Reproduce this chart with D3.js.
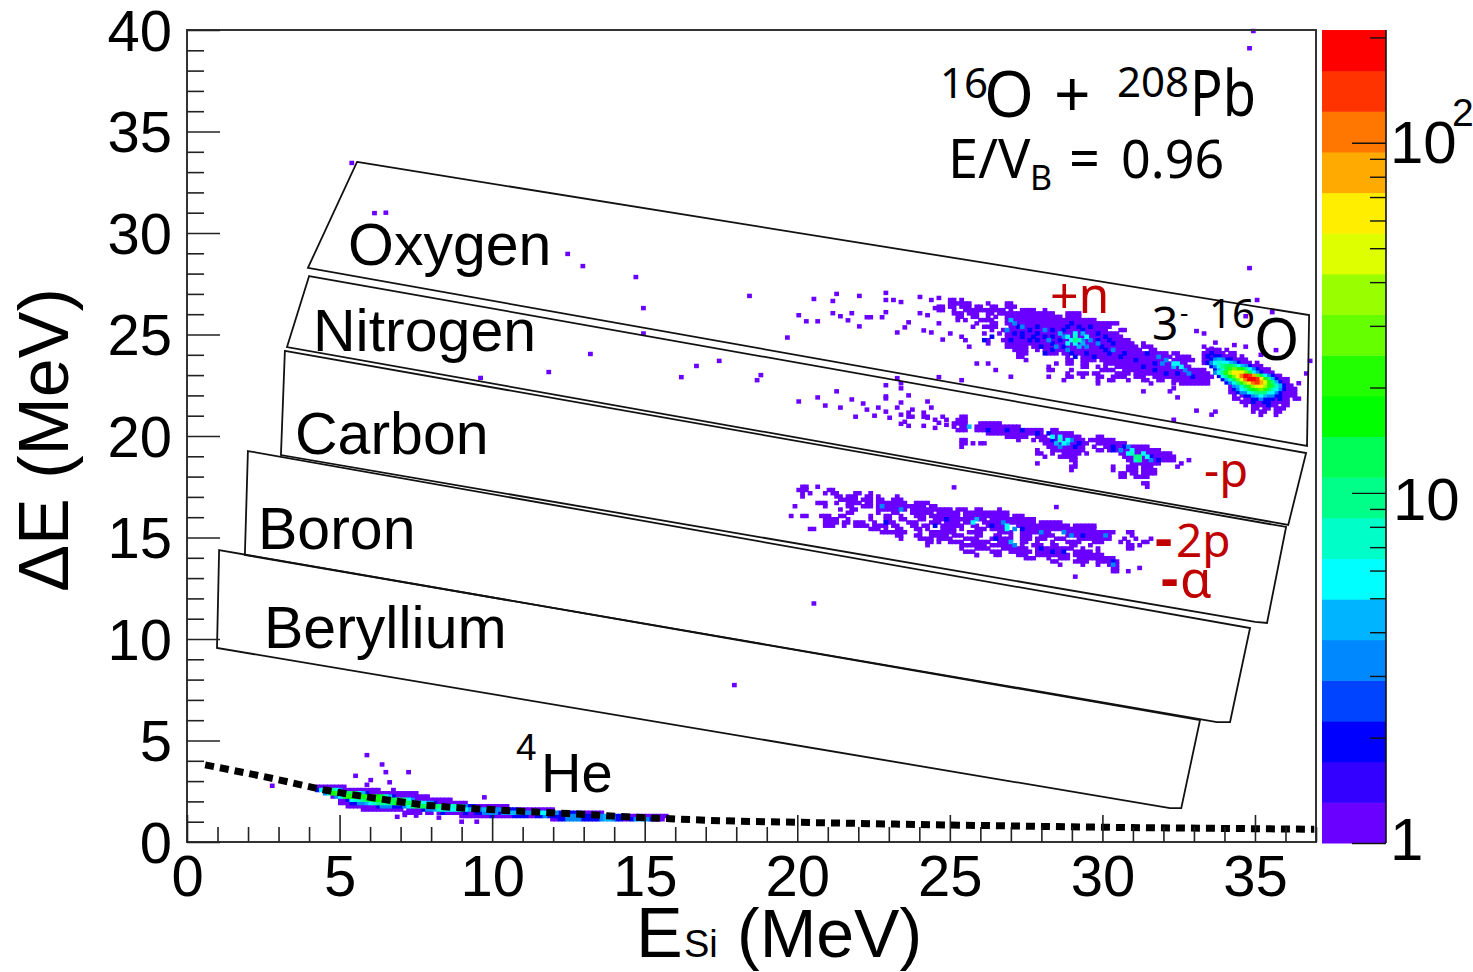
<!DOCTYPE html>
<html>
<head>
<meta charset="utf-8">
<title>16O + 208Pb dE-E</title>
<script src="https://cdn.jsdelivr.net/npm/d3@7"></script>
<style>
	html, body { margin: 0; padding: 0; background: #fff; overflow: hidden; }
	text { font-family: "Liberation Sans", Arial, sans-serif; fill: #000; }
	.note { font-family: "Noto Sans", "Open Sans", sans-serif; }
	.red { font-family: "Noto Sans", "Open Sans", sans-serif; fill: #c00000; }
</style>
</head>
<body>
<script>

// bin size of the E-dE histogram, MeV
var binE = 0.125,
	binD = 0.16;

// axis ticks
var xTicks = d3.range(0, 38),
	yTicks = d3.range(0, 41),
	zTicks = [1,2,3,4,5,6,7,8,9,10,20,30,40,50,60,70,80,90,100,200],
	zMax = 210;

// palette of the colour bar, bottom to top
var palette = ["#6a00ff","#3300ff","#0000ff","#0044ff","#0088ff","#00b4ff","#00ffff","#00ffc8","#00ff88","#00ff55",
	"#00ff00","#22ff00","#66ff00","#99ff00","#ddff00","#ffee00","#ffaa00","#ff7700","#ff3300","#ff0000"];

// gates, [E, dE] corners
var gateNames = ["Oxygen","Nitrogen","Carbon","Boron","Beryllium"];
var gates = [
	[[5.61,33.50],[37.03,25.96],[36.96,19.51],[3.99,28.28]],
	[[4.03,27.88],[36.93,19.16],[36.34,15.62],[3.30,24.38]],
	[[3.23,24.19],[36.27,15.52],[35.64,10.79],[35.25,10.84],[3.10,19.06]],
	[[2.01,19.26],[35.08,10.54],[34.42,5.91],[33.99,5.91],[1.91,14.14]],
	[[1.06,14.38],[33.43,6.01],[32.81,1.67],[32.44,1.67],[0.99,9.56]]
];

// dashed 4He ridge line
var ridgeE = [0.6,3.07,4.55,6.04,8.0,10,12.6,15.1,17.6,20.2,23.5,26.8,30.1,33.4,37.2];
var ridgeD = [3.8,3.05,2.56,2.2,1.8,1.6,1.4,1.2,1.05,0.97,0.88,0.8,0.73,0.68,0.63];

// elastic 16O peak, rows of [dE, first E, counts]
var peakRows = [
	[24.24,33.625,[1,0,1,1,0,1]],
	[24.08,33.5,[1,1,2,1,1,1,0,1,1]],
	[23.92,33.5,[1,2,1,2,2,1,1,1,1,0,1]],
	[23.76,33.5,[1,1,2,3,4,3,2,2,1,1,1,1]],
	[23.6,33.5,[1,2,3,5,7,6,5,4,3,2,1,1,1,0,1]],
	[23.44,33.75,[2,3,6,10,14,12,9,6,4,3,2,1,1,1]],
	[23.28,33.875,[2,4,8,14,24,30,24,16,9,5,3,2,1,1,1]],
	[23.12,33.875,[3,6,11,20,38,62,70,50,26,12,6,3,2,1,1,1]],
	[22.96,34.0,[2,5,9,16,30,58,110,170,150,80,30,12,6,3,2,1,1]],
	[22.8,34.125,[2,4,8,14,26,50,100,190,200,130,56,22,9,4,2,1,1,1]],
	[22.64,34.25,[2,3,6,11,20,36,66,110,130,90,46,20,9,4,2,1,1]],
	[22.48,34.375,[1,3,4,8,14,22,36,52,56,42,24,12,7,4,2,1,1]],
	[22.32,34.375,[1,2,3,5,8,12,18,24,26,20,12,8,5,3,2,1,1,1]],
	[22.16,34.375,[1,1,2,3,3,5,8,10,11,9,6,5,3,2,1,1,1,1]],
	[22.0,34.5,[1,0,1,2,2,3,4,5,4,3,3,2,2,1,1,1,1]],
	[21.84,34.5,[1,1,0,1,1,2,2,3,2,2,2,1,2,1,1,0,1,1]],
	[21.68,34.75,[1,1,1,2,1,1,2,2,1,1,1,1,1]],
	[21.52,34.875,[1,0,1,1,1,1,2,1,1,0,1,1]],
	[21.36,35.125,[1,1,0,1,1,0,1,1,1]],
	[21.2,35.125,[1,0,1,1,0,0,1,1]],
	[21.04,35.375,[1,0,0,0,1]]
];

// 4He band under the dashed line, rows of [dE, first E, counts]
var heliumRows = [
	[2.72,4.25,[1,1,1,1,1,1,1,1]],
	[2.56,4.25,[2,5,12,14,10,6,3,1,1,1,1,1,1,1,1,1,1]],
	[2.4,4.5,[3,8,16,22,22,18,14,12,10,6,4,2,1,1,1,1,1,1,1,1,1,1,1,1,1]],
	[2.24,4.75,[1,3,6,14,22,22,20,16,18,20,22,20,16,12,8,4,2,1,1,1,1,1,1,1,1,1]],
	[2.08,5,[1,1,2,5,8,8,10,12,14,16,18,22,20,16,12,14,12,9,6,3,1,1,1,1,1,1,1,1,1,1]],
	[1.92,5.1,[1,1,1,2,2,3,3,4,6,8,10,10,8,10,14,16,14,12,14,12,9,8,6,4,3,2,1,1,1,1,1,1,1,1]],
	[1.76,5.25,[1,1,1,1,1,1,1,1,2,3,3,3,2,2,2,3,6,10,14,14,12,12,14,12,10,8,6,6,8,6,4,3,2,2,1,1,1,1,1,1,1,1,1]],
	[1.6,5.8,[1,1,1,1,1,1,1,1,1,1,1,0,1,1,1,1,2,3,3,4,8,8,6,6,6,8,8,6,4,4,3,3,4,6,4,3,3,2,3,2,2,1,1,1,1,1,1,1,1,1,1]],
	[1.44,7.2,[1,1,1,1,1,0,1,1,0,1,2,1,1,1,1,1,2,1,1,2,2,3,3,3,3,2,3,3,4,4,4,4,3,3,4,4,6,6,4,3,3,2,2,2,2,2,2,1,1,1,1,1,1]],
	[1.28,9.0,[1,1,1,1,1,1,1,1,2,1,1,1,1,1,2,2,2,2,1,1,2,2,3,2,2,2,2,2,3,3,3,2,2,2,2,2,3,3,4,3,3,2,2,2,1,1,1,1,1,1,1,1,1,1,1]],
	[1.12,12.0,[1,1,2,2,3,3,3,3,2,2,2,2,2,3,4,4,3,2,2,1,1,2,3,4,4,3,2,1,1,1]]
];

// single count bins, rows of [dE, E, run length, E, run length, ...]
var plusNRuns = [
	[26.7, 25.2,2, 25.6,1],
	[26.53, 25.15,4, 25.7,2, 26.45,1, 27.1,2],
	[26.37, 24.85,2, 25.2,2, 25.55,3, 26.1,2, 26.55,2, 27.0,3],
	[26.2, 24.85,2, 25.3,1, 25.7,5, 26.3,6, 27.2,1, 27.5,4, 28.3,1],
	[26.04, 25.3,3, 25.8,3, 26.4,2, 26.8,5, 27.4,6, 28.2,3, 28.5,1, 29.1,4],
	[25.87, 25.4,2, 25.9,2, 26.4,1, 26.7,1, 27.0,10, 28.25,5, 29.0,4],
	[25.71, 25.4,1, 25.7,1, 26.2,4, 27.1,16, 29.05,6, 29.7,3],
	[25.55, 26.0,1, 26.5,2, 27.0,20, 29.5,10],
	[25.38, 25.9,1, 26.3,3, 26.7,1, 27.2,27],
	[25.22, 26.6,1, 26.9,28, 30.8,2],
	[25.05, 25.2,1, 26.3,1, 26.8,1, 27.0,30],
	[24.89, 25.5,1, 27.1,31],
	[24.72, 25.65,1, 26.3,2, 26.9,34],
	[24.56, 26.4,1, 27.0,4, 27.5,30, 31.6,1],
	[24.4, 25.8,1, 27.1,6, 27.9,28, 31.6,3],
	[24.24, 27.3,4, 28.0,1, 28.3,26, 31.8,2],
	[24.07, 27.4,3, 28.45,3, 28.9,22, 31.7,6, 32.5,2],
	[23.9, 27.4,2, 29.1,1, 29.5,16, 31.6,8, 32.7,4],
	[23.74, 27.7,1, 29.0,2, 29.5,4, 30.2,18, 32.6,6],
	[23.57, 26.1,1, 26.45,1, 28.7,1, 29.1,2, 29.6,2, 30.3,22],
	[23.41, 28.4,1, 29.5,2, 30.0,1, 30.3,1, 30.7,20],
	[23.25, 26.7,1, 28.4,2, 29.2,1, 30.2,4, 30.9,22],
	[23.08, 29.0,1, 29.4,3, 29.9,2, 30.7,4, 31.3,20],
	[22.92, 27.15,1, 28.4,1, 29.0,2, 29.5,1, 30.0,2, 30.5,4, 31.3,3, 31.9,16],
	[22.75, 25.5,1, 28.95,1, 30.0,1, 30.4,2, 31.0,1, 31.6,2, 32.0,2, 32.5,10],
	[22.59, 30.0,1, 31.85,1, 32.5,1, 32.8,8],
	[22.2, 31.6,1, 32.4,1]
];
var nitrogenRuns = [
	[20.95, 23.8,2, 24.3,2, 25.6,2],
	[20.79, 25.4,3],
	[20.62, 25.3,4, 26.2,6],
	[20.46, 25.3,1, 25.5,2, 25.8,1, 26.0,9, 27.1,4],
	[20.29, 25.4,1, 25.6,2, 26.1,18, 28.6,2],
	[20.13, 26.4,15, 28.5,6],
	[19.96, 27.0,4, 27.6,2, 28.0,3, 28.5,8, 30.0,2],
	[19.8, 25.6,2, 27.4,1, 27.9,1, 28.2,12, 29.8,4, 30.3,3],
	[19.64, 25.55,2, 25.9,1, 26.2,2, 28.3,12, 30.0,8],
	[19.47, 25.5,1, 28.4,10, 29.9,1, 30.3,12],
	[19.3, 28.1,1, 28.6,9, 30.0,2, 30.4,14],
	[19.14, 28.0,2, 28.6,1, 28.9,5, 29.7,1, 30.8,14],
	[18.98, 28.3,1, 28.8,3, 29.2,2, 30.9,14],
	[18.81, 29.2,2, 31.0,3, 31.4,10, 33.0,1],
	[18.65, 28.1,1, 29.3,1, 31.2,2, 31.4,6, 32.8,1],
	[18.49, 29.2,2, 30.6,1, 31.1,3, 31.6,3, 32.7,1],
	[18.32, 29.2,1, 30.6,1, 31.1,3, 31.5,4],
	[18.16, 30.8,2, 31.2,2, 31.6,4],
	[17.99, 30.8,2, 31.3,3, 31.7,1],
	[17.67, 31.5,2],
	[17.5, 31.65,1]
];
var carbonRuns = [
	[17.5, 20.25,2, 20.85,1],
	[17.34, 20.2,3, 21.2,2],
	[17.18, 20.3,1, 20.55,1, 21.05,1, 21.3,2, 22.0,2, 22.5,1],
	[17.02, 20.3,1, 21.4,2, 21.75,3, 22.4,2, 22.8,1, 23.4,1],
	[16.86, 21.5,3, 21.9,2, 22.3,3, 22.75,2, 23.3,3],
	[16.7, 20.75,3, 21.4,1, 21.85,4, 22.4,2, 22.75,4, 23.2,5, 24.0,4],
	[16.54, 20.05,1, 21.1,1, 21.85,2, 22.3,3, 22.8,5, 23.4,8, 24.5,2],
	[16.38, 21.5,1, 21.95,2, 22.75,3, 23.2,5, 23.9,6, 24.7,5, 25.4,3, 26.0,2, 26.8,1],
	[16.22, 21.85,2, 22.8,1, 23.3,2, 23.9,2, 24.2,4, 24.8,6, 25.7,7, 26.6,5],
	[16.06, 19.9,1, 20.25,2, 20.9,3, 21.6,2, 22.5,1, 23.0,2, 23.5,1, 24.0,3, 24.6,8, 25.7,12, 27.3,3],
	[15.9, 21.0,4, 21.85,1, 22.55,1, 23.1,2, 23.5,2, 24.2,2, 24.7,3, 25.2,10, 26.6,12],
	[15.74, 21.05,4, 21.65,2, 22.0,3, 22.7,1, 23.2,2, 23.8,3, 24.5,3, 25.0,4, 25.7,2, 26.3,14, 28.2,6],
	[15.58, 21.1,3, 21.7,1, 22.0,4, 22.7,4, 23.3,2, 23.9,2, 24.3,2, 24.9,6, 25.9,2, 26.4,6, 27.4,14, 29.3,6],
	[15.42, 20.6,2, 22.6,3, 23.1,1, 23.4,2, 24.0,2, 24.4,1, 24.9,4, 25.6,1, 26.0,3, 26.6,5, 27.5,20],
	[15.26, 22.9,5, 23.6,2, 24.2,1, 24.6,7, 25.8,4, 26.8,4, 27.6,8, 28.9,14, 31.0,2],
	[15.1, 23.4,2, 24.0,2, 24.5,5, 25.3,3, 26.0,2, 26.7,2, 27.2,1, 27.6,3, 28.2,4, 29.0,12, 31.2,1],
	[14.94, 23.5,1, 24.2,4, 24.85,4, 25.7,4, 26.5,6, 27.5,3, 28.1,3, 28.7,3, 29.4,9, 30.9,1, 31.3,1, 31.8,1],
	[14.78, 24.4,2, 24.85,1, 25.2,4, 25.9,5, 26.8,4, 27.5,2, 28.0,1, 28.5,1, 29.1,4, 29.9,3, 30.8,1, 31.1,1, 31.5,2],
	[14.62, 24.4,1, 25.5,4, 26.1,3, 26.6,6, 27.5,1, 27.9,3, 28.6,2, 29.2,2, 29.85,1, 31.1,2, 31.4,1],
	[14.46, 25.6,1, 26.1,4, 26.9,7, 28.0,7, 28.9,3, 29.5,1, 30.0,1, 31.1,2],
	[14.3, 25.7,3, 26.5,3, 27.2,6, 28.1,8, 29.3,5, 30.0,1],
	[14.14, 26.0,1, 26.7,2, 27.4,3, 28.0,9, 29.3,8],
	[13.98, 27.7,3, 28.4,1, 28.8,3, 29.4,7, 30.3,3],
	[13.82, 28.5,2, 29.3,4, 30.0,4, 30.5,2],
	[13.66, 28.8,1, 29.5,1, 30.0,1, 30.4,3],
	[13.5, 30.5,2, 31.4,1],
	[13.34, 30.5,2, 31.1,1]
];

// bins above one count, [E, dE, count]
var hotBins = [
	// +n group
	[28.8,25.05,4],[28.95,24.89,5],[29.1,24.89,6],[29.25,24.89,8],[29.3,24.72,9],[29.45,24.72,7],[29.2,24.72,6],[29.05,24.56,5],[29.35,24.56,6],[29.55,24.56,4],
	[29.25,25.05,5],[29.5,25.05,4],[29.7,24.89,5],[29.85,24.72,3],[30.0,24.56,3],[29.7,24.4,3],[29.4,24.4,4],[29.1,24.24,3],[28.7,24.4,3],[28.4,24.72,3],
	[27.2,25.71,4],[27.35,25.55,3],[27.0,25.22,3],[27.6,25.38,3],[27.8,25.22,2],[28.1,25.05,2],[28.3,25.22,3],[28.5,24.56,2],[28.0,24.72,2],[27.6,24.89,2],
	[29.0,25.38,2],[29.6,25.22,2],[30.0,25.05,2],[30.3,24.89,2],[30.2,24.4,2],[30.6,24.24,3],[30.9,24.07,2],[28.3,24.07,2],[29.2,24.07,2],[29.9,23.9,2],
	[27.4,25.38,2],[27.9,24.89,2],[28.2,24.4,2],[26.6,24.89,2],[26.3,24.72,2],[27.15,24.72,2],[28.9,24.89,3],[29.6,24.72,3],[30.4,24.72,2],[30.6,24.56,2],
	[27.3,25.05,2],[27.55,25.05,2],[27.75,24.72,2],[28.05,25.38,2],[28.25,24.89,2],[28.55,25.22,2],[28.6,24.89,2],[28.75,24.72,2],[28.95,25.22,2],[29.15,25.55,2],
	[29.4,25.38,2],[29.8,25.38,2],[30.1,24.72,2],[30.25,24.24,2],[29.65,24.07,2],[29.35,23.9,2],[30.45,24.07,2],[30.75,23.9,2],[28.6,24.24,2],[28.9,24.4,2],
	// tail towards the elastic peak
	[31.7,24.07,2],[32.0,23.9,3],[32.3,23.74,3],[32.5,23.57,5],[32.65,23.57,6],[32.8,23.41,5],[32.6,23.41,4],[32.95,23.25,3],[32.2,23.57,3],[31.9,23.57,2],
	[31.6,23.41,2],[31.3,23.74,2],[33.1,23.08,3],[32.7,23.08,2],[32.35,23.08,2],[33.2,22.92,2],[31.9,23.25,2],
	// nitrogen group
	[28.6,19.96,5],[28.75,19.8,7],[28.85,19.96,6],[29.0,19.8,5],[28.9,19.64,6],[28.7,19.64,4],[29.2,19.8,3],[29.3,19.47,2],[28.5,19.8,2],[29.05,19.64,4],[28.75,19.47,3],[28.4,20.13,2],
	[30.8,19.3,3],[31.0,19.14,5],[31.15,19.3,6],[31.2,19.14,8],[31.3,18.98,10],[31.4,18.98,11],[31.45,18.81,9],[31.3,18.81,7],[31.55,19.14,6],[31.65,18.98,5],[30.9,19.47,2],[31.1,19.47,3],[31.8,18.81,3],[25.8,20.46,4],
	[30.6,19.3,2],[30.5,19.47,2],[31.85,18.98,2],[32.0,18.81,2],[27.5,20.29,2],[26.4,20.29,2],[27.0,20.29,2],[28.1,20.13,2],[29.45,19.64,2],
	// carbon group
	[25.95,15.74,5],[26.0,15.9,4],[26.95,15.74,3],[27.0,15.58,6],[27.1,15.42,5],[27.3,15.42,3],[28.2,15.26,3],[28.9,15.26,3],[29.2,15.1,3],[29.5,15.1,2],[30.35,15.1,3],[27.2,14.78,4],[27.35,14.62,3],
	[26.7,14.94,2],[28.6,14.3,2],[28.2,14.46,2],[28.9,14.3,2],[30.5,13.82,2],[30.6,13.66,3],[22.9,16.54,3],[23.55,16.38,3],[23.1,15.74,2],[26.6,15.58,2],[27.6,15.42,2],[25.0,15.9,2],[24.7,15.58,2]
];

// stray single counts, [E, dE]
var strayE = [14.85,15.1,18.55,20.65,21.4,21.3,22.2,23.1,23.0,23.3,23.55,21.3,21.95,21.5,21.75,20.2,20.45,20.85,22.2,22.45,22.6,22.95,23.1,19.85,15.0,17.6,16.85,16.35,18.9,18.75,21.4,20.85,20.2,21.0,21.9,22.3,21.6,22.45,22.7,22.8,22.1,23.45,23.5,23.6,23.75,23.1,23.0,23.1,23.55,23.4,24.4,24.5,23.2,23.1,23.6,23.7,23.8,23.95,24.25,24.35,24.45,24.65,24.8,24.9,24.3,24.65,23.6,23.75,25.0,25.0,24.8,24.2,24.4,24.7,24.9,24.75,24.6,24.9,24.3,23.8,23.45,23.65,24.15,24.5,24.8,35.36,33.33,33.6,34.9,35.8,33.99,34.5,34.97,33.55,33.8,35.4,35.93,37.0,36.9,36.66,32.5,32.7,33.3,33.9,33.76,32.55,20.66,18.09,35.15,35.0,5.45,6.2,6.5,12.57,13.04,11.9,13.33,9.67,35.0,25.35,28.65,26.0,29.25,5.95,6.49,5.55,6.0,5.9,6.55,6.7,7.3,6.84,9.82,2.78,6.84,6.9,7.2,7.5,8.3,9.0,9.5];
var strayD = [27.83,26.3,26.9,26.75,27.0,26.65,26.9,27.05,26.7,26.7,26.6,26.05,26.05,25.9,25.7,25.95,25.65,25.65,25.4,25.85,25.85,25.85,26.1,24.85,25.05,23.7,23.45,22.9,23.0,22.75,22.2,21.9,21.7,21.5,21.8,21.6,21.4,21.3,21.0,21.4,20.95,22.85,22.6,22.35,22.0,22.5,21.95,21.85,21.65,21.4,21.7,21.4,20.9,21.2,21.05,20.7,21.15,21.3,21.15,20.95,20.9,20.8,20.65,20.95,20.5,20.4,20.6,20.5,20.8,20.55,26.8,26.05,25.95,26.3,26.3,25.55,25.1,24.75,25.2,25.6,25.1,25.35,26.85,26.7,22.9,26.7,25.17,25.05,25.9,26.1,24.6,24.48,24.4,24.4,24.3,24.0,24.23,23.7,23.08,22.6,22.35,21.9,21.25,21.2,21.05,20.8,11.75,7.73,39.95,39.1,33.45,30.98,31.0,28.97,28.37,23.15,24.04,22.86,28.27,17.47,16.5,14.13,13.07,4.28,3.82,3.26,3.05,2.82,3.44,2.94,3.44,2.56,2.2,2.77,2.2,1.24,1.33,1.3,1.2,1.0,1.0];

// create svg surface
var width = 1473,
	height = 972;

var svg = d3.select("body").append("svg")
	.attr("width", width)
	.attr("height", height)
	.style("display", "block");

var x = d3.scaleLinear().domain([0, 37]).range([187, 1316]),
	y = d3.scaleLinear().domain([0, 40]).range([842, 30]),
	z = d3.scaleLog().domain([1, zMax]).range([843, 30]);

// the bins were read against 30.3 px/MeV, the printed axis runs at 30.5
var readK = 30.3 / 30.51;

var colorOf = d3.scaleQuantize().domain([0, 1]).range(palette),
	zPos = d3.scaleLog().domain([1, zMax]).range([0, 1]);

// put everything in one map of bins, later entries overwrite earlier ones
var bins = new Map();

function addBin(E, dE, count) {
	var col = Math.floor(E / binE);
	bins.set(col + "_" + dE, {col: col, dE: dE, count: count});
}

function addRuns(rows) {
	rows.forEach(function(r) {
		for (var i = 1; i < r.length; i += 2) {
			for (var k = 0; k < r[i + 1]; k++) addBin(r[i] + k * binE, r[0], 1);
		}
	});
}

function addCounts(rows) {
	rows.forEach(function(r) {
		r[2].forEach(function(c, k) {
			if (c > 0) addBin(r[1] + k * binE, r[0], c);
		});
	});
}

strayE.forEach(function(E, i) { addBin(E, strayD[i], 1); });
addRuns(plusNRuns);
addRuns(nitrogenRuns);
addRuns(carbonRuns);
hotBins.forEach(function(b) { addBin(b[0], b[1], b[2]); });
addCounts(peakRows);
addCounts(heliumRows);

var cellW = x(binE * readK) - x(0),
	cellH = y(0) - y(binD);

// a bin prints a little wider than its width, hot bins go on top
var binList = Array.from(bins.values()).sort(function(a, b) { return a.count - b.count; });

svg.append("g").selectAll("rect")
	.data(binList)
	.enter().append("rect")
	.attr("x", function(d) { return x(d.col * binE * readK) - 0.5; })
	.attr("y", function(d) { return y(d.dE) - cellH / 2 - 0.6; })
	.attr("width", cellW + 1)
	.attr("height", cellH + 1.2)
	.attr("fill", function(d) { return colorOf(Math.min(zPos(d.count), 0.999)); });

// gates
svg.append("g").selectAll("polygon")
	.data(gates)
	.enter().append("polygon")
	.attr("points", function(g) {
		return g.map(function(p) { return x(p[0] * readK) + "," + y(p[1]); }).join(" ");
	})
	.attr("fill", "none")
	.attr("stroke", "#111")
	.attr("stroke-width", 1.8);

// dashed ridge
var ridge = d3.line()
	.x(function(d) { return x(d[0] * readK); })
	.y(function(d) { return y(d[1]); })
	.curve(d3.curveMonotoneX);

svg.append("path")
	.datum(d3.zip(ridgeE, ridgeD))
	.attr("d", ridge)
	.attr("fill", "none")
	.attr("stroke", "#000")
	.attr("stroke-width", 7)
	.attr("stroke-dasharray", "9 6");

// frame and axes
svg.append("rect")
	.attr("x", x(0)).attr("y", y(40))
	.attr("width", x(37) - x(0)).attr("height", y(0) - y(40))
	.attr("fill", "none")
	.attr("stroke", "#333")
	.attr("stroke-width", 2);

var xAxis = svg.append("g")
	.attr("transform", "translate(0," + y(0) + ")")
	.call(d3.axisBottom(x).tickValues(xTicks).tickSize(-15).tickPadding(13)
		.tickFormat(function(d) { return d % 5 == 0 ? d : ""; }));

xAxis.selectAll("line")
	.attr("y2", function(d) { return d % 5 == 0 ? -27 : -15; });

var yAxis = svg.append("g")
	.attr("transform", "translate(" + x(0) + ",0)")
	.call(d3.axisLeft(y).tickValues(yTicks).tickSize(-17).tickPadding(15)
		.tickFormat(function(d) { return d % 5 == 0 ? d : ""; }));

yAxis.selectAll("line")
	.attr("x2", function(d) { return d % 5 == 0 ? 33 : 17; });

svg.selectAll("g.tick line").attr("stroke", "#222").attr("stroke-width", 1.6);
svg.selectAll("g.tick text")
	.style("font-family", "'Liberation Sans', Arial, sans-serif")
	.style("font-size", "58px")
	.attr("fill", "#000");
yAxis.selectAll("text").attr("dy", "0.35em");
xAxis.select(".domain").remove();
yAxis.select(".domain").remove();

// colour bar
svg.append("g").selectAll("rect")
	.data(palette)
	.enter().append("rect")
	.attr("x", 1322)
	.attr("width", 64)
	.attr("y", function(d, i) { return z(Math.pow(zMax, (i + 1) / palette.length)); })
	.attr("height", function(d, i) {
		return z(Math.pow(zMax, i / palette.length)) - z(Math.pow(zMax, (i + 1) / palette.length)) + 0.5;
	})
	.attr("fill", function(d) { return d; });

var zAxis = svg.append("g")
	.attr("transform", "translate(1386,0)")
	.call(d3.axisRight(z).tickValues(zTicks).tickSize(-16).tickFormat(""));

zAxis.selectAll("line")
	.attr("x2", function(d) { return (d == 1 || d == 10 || d == 100) ? -34 : -16; })
	.attr("stroke", "#111")
	.attr("stroke-width", 1.4);
zAxis.select(".domain").attr("stroke", "#111").attr("stroke-width", 1.6).attr("d", "M0,30V843");

function label(txt, px, py, size, cls, anchor) {
	return svg.append("text")
		.attr("x", px).attr("y", py)
		.attr("class", cls || null)
		.attr("text-anchor", anchor || "start")
		.style("font-size", size + "px")
		.text(txt);
}

// colour bar labels
label("1", 1390, 860, 60);
label("10", 1393, 520, 60);
label("10", 1390, 163, 60);
label("2", 1452, 126, 39);

// axis titles
svg.append("text")
	.attr("transform", "translate(68,440) rotate(-90)")
	.attr("text-anchor", "middle")
	.style("font-size", "70px")
	.text("ΔE (MeV)");
label("E", 636, 957, 70);
label("Si", 684, 957, 38);
label("(MeV)", 737, 957, 68);

// gate names
var nameX = [348, 313, 295, 258, 264],
	nameY = [265, 351, 454, 549, 648];
gateNames.forEach(function(n, i) { label(n, nameX[i], nameY[i], 59); });

label("4", 516, 760, 37);
label("He", 541, 792, 56);

// reaction
label("16", 940, 98, 42, "note");
label("O", 984, 117, 64, "note");
label("+", 1054, 117, 64, "note");
label("208", 1117, 97, 42, "note");
label("Pb", 1190, 116, 64, "note").attr("textLength", 66).attr("lengthAdjust", "spacingAndGlyphs");
label("E/V", 948, 178, 54, "note");
label("B", 1030, 190, 34, "note");
label("=", 1069, 178, 54, "note");
label("0.96", 1121, 178, 52, "note");

// fragments
label("+n", 1050, 313, 50, "red");
label("-p", 1204, 487, 47, "red");
label("-", 1155, 557, 54, "red").style("font-weight", "bold");
label("2p", 1176, 557, 46, "red");
label("-", 1161, 597, 54, "red").style("font-weight", "bold");
label("α", 1180, 597, 51, "red");

label("3", 1152, 340, 46, "note");
label("-", 1180, 322, 26, "note");
label("16", 1209, 328, 40, "note");
label("O", 1254, 360, 58, "note");

</script>
</body>
</html>
